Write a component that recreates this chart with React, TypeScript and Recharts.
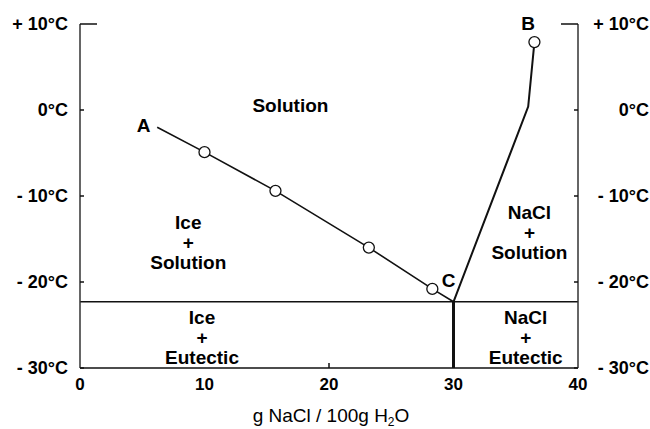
import React from "react";
import {
  ComposedChart,
  Line,
  Scatter,
  XAxis,
  YAxis,
  ReferenceLine,
  ReferenceDot,
} from "recharts";

// NaCl / water phase diagram

const xTicks = [0, 10, 20, 30, 40];
const tTicks = [-30, -20, -10, 0, 10];
const tTickLabels: { [k: number]: string } = {
  10: "+ 10°C",
  0: "0°C",
  "-10": "- 10°C",
  "-20": "- 20°C",
  "-30": "- 30°C",
};

const eutecticT = -22.3;
const eutecticX = 30;

// ice liquidus A -> C
const curveAC = [
  { x: 6.2, t: -2.0 },
  { x: 10.0, t: -4.9 },
  { x: 15.7, t: -9.4 },
  { x: 23.2, t: -16.0 },
  { x: 28.3, t: -20.8 },
  { x: 30.0, t: -22.3 },
];

// NaCl solubility C -> B
const curveCB = [
  { x: 30.0, t: -22.3 },
  { x: 36.0, t: 0.4 },
  { x: 36.5, t: 7.9 },
];

const measured = [
  { x: 10.0, t: -4.9 },
  { x: 15.7, t: -9.4 },
  { x: 23.2, t: -16.0 },
  { x: 28.3, t: -20.8 },
  { x: 36.5, t: 7.9 },
];

const regionLabels = [
  { x: 16.9, t: 0.6, lines: ["Solution"] },
  { x: 8.7, t: -15.3, lines: ["Ice", "+", "Solution"] },
  { x: 36.1, t: -14.2, lines: ["NaCl", "+", "Solution"] },
  { x: 9.8, t: -26.4, lines: ["Ice", "+", "Eutectic"] },
  { x: 35.8, t: -26.4, lines: ["NaCl", "+", "Eutectic"] },
];

const pointLabels = [
  { x: 5.1, t: -1.7, text: "A" },
  { x: 36.0, t: 10.1, text: "B" },
  { x: 29.6, t: -19.8, text: "C" },
];

const FONT = "'Liberation Sans', Arial, sans-serif";
const INK = "#111";

const LeftTick = (props: any) => {
  const { x, y, payload, index } = props;
  const len = index === tTicks.length - 1 ? 17 : 4;
  return (
    <g>
      <line x1={x} y1={y} x2={x + len} y2={y} stroke={INK} strokeWidth={1.5} />
      <text x={x - 12} y={y + 6} textAnchor="end" fontSize={18} fontWeight="bold" fill="#000" fontFamily={FONT}>
        {tTickLabels[payload.value]}
      </text>
    </g>
  );
};

const RightTick = (props: any) => {
  const { x, y, payload, index } = props;
  const len = index === tTicks.length - 1 ? 17 : 4;
  return (
    <g>
      <line x1={x - len} y1={y} x2={x} y2={y} stroke={INK} strokeWidth={1.5} />
      <text x={x + 71} y={y + 6} textAnchor="end" fontSize={18} fontWeight="bold" fill="#000" fontFamily={FONT}>
        {tTickLabels[payload.value]}
      </text>
    </g>
  );
};

const BottomTick = (props: any) => {
  const { x, y, payload } = props;
  return (
    <g>
      {payload.value === 20 && <line x1={x} y1={y} x2={x} y2={y - 5} stroke={INK} strokeWidth={1.5} />}
      <text x={x} y={y + 22} textAnchor="middle" fontSize={17} fontWeight="bold" fill="#000" fontFamily={FONT}>
        {payload.value}
      </text>
    </g>
  );
};

const XTitle = (props: any) => {
  const { viewBox } = props;
  return (
    <text x={viewBox.x + viewBox.width / 2 + 2} y={viewBox.y + 54} textAnchor="middle" fontSize={19} fill="#000" fontFamily={FONT}>
      g NaCl / 100g H
      <tspan fontSize={12} dy={4}>2</tspan>
      <tspan dy={-4}>O</tspan>
    </text>
  );
};

const multiLine = (lines: string[]) => (props: any) => {
  const { viewBox } = props;
  const cx = viewBox.x + viewBox.width / 2;
  const cy = viewBox.y + viewBox.height / 2;
  const gap = 20;
  const top = cy - ((lines.length - 1) * gap) / 2 + 7;
  return (
    <text textAnchor="middle" fontSize={19} fontWeight="bold" fill="#000" fontFamily={FONT}>
      {lines.map((l, i) => (
        <tspan key={i} x={cx} y={top + i * gap}>
          {l}
        </tspan>
      ))}
    </text>
  );
};

const OpenCircle = (props: any) => (
  <circle cx={props.cx} cy={props.cy} r={5.5} fill="#fff" stroke={INK} strokeWidth={1.3} />
);

export default function App() {
  return (
    <div style={{ position: "absolute", left: 0, top: 0 }}>
      <ComposedChart
        width={650}
        height={429}
        margin={{ top: 24, right: 0, bottom: 0, left: 0 }}
        style={{ fontFamily: FONT }}
      >
        <XAxis
          type="number"
          dataKey="x"
          domain={[0, 40]}
          ticks={xTicks}
          allowDataOverflow
          height={61}
          tickLine={false}
          tickSize={0}
          tickMargin={0}
          axisLine={{ stroke: INK, strokeWidth: 1.5 }}
          tick={<BottomTick />}
          label={{ content: <XTitle /> }}
        />
        <YAxis
          type="number"
          domain={[-30, 10]}
          ticks={tTicks}
          allowDataOverflow
          width={80}
          tickLine={false}
          tickSize={0}
          tickMargin={0}
          axisLine={{ stroke: "#333", strokeWidth: 1.5 }}
          tick={<LeftTick />}
        />
        <YAxis
          yAxisId="r"
          orientation="right"
          type="number"
          domain={[-30, 10]}
          ticks={tTicks}
          allowDataOverflow
          width={72}
          tickLine={false}
          tickSize={0}
          tickMargin={0}
          axisLine={{ stroke: "#333", strokeWidth: 1.5 }}
          tick={<RightTick />}
        />
        <ReferenceLine y={eutecticT} stroke={INK} strokeWidth={1.5} />
        <ReferenceLine
          segment={[
            { x: eutecticX, y: -30 },
            { x: eutecticX, y: eutecticT },
          ]}
          stroke={INK}
          strokeWidth={3}
        />
        <Line
          data={curveAC}
          dataKey="t"
          stroke={INK}
          strokeWidth={1.6}
          dot={false}
          type="linear"
          isAnimationActive={false}
        />
        <Line
          data={curveCB}
          dataKey="t"
          stroke={INK}
          strokeWidth={2}
          dot={false}
          type="linear"
          isAnimationActive={false}
        />
        <Scatter data={measured} dataKey="t" shape={<OpenCircle />} isAnimationActive={false} />
        {regionLabels.map((r, i) => (
          <ReferenceDot
            key={"r" + i}
            x={r.x}
            y={r.t}
            r={1}
            fill="none"
            stroke="none"
            ifOverflow="visible"
            label={{ content: multiLine(r.lines) }}
          />
        ))}
        {pointLabels.map((p, i) => (
          <ReferenceDot
            key={"p" + i}
            x={p.x}
            y={p.t}
            r={1}
            fill="none"
            stroke="none"
            ifOverflow="visible"
            label={{ content: multiLine([p.text]) }}
          />
        ))}
      </ComposedChart>
    </div>
  );
}
